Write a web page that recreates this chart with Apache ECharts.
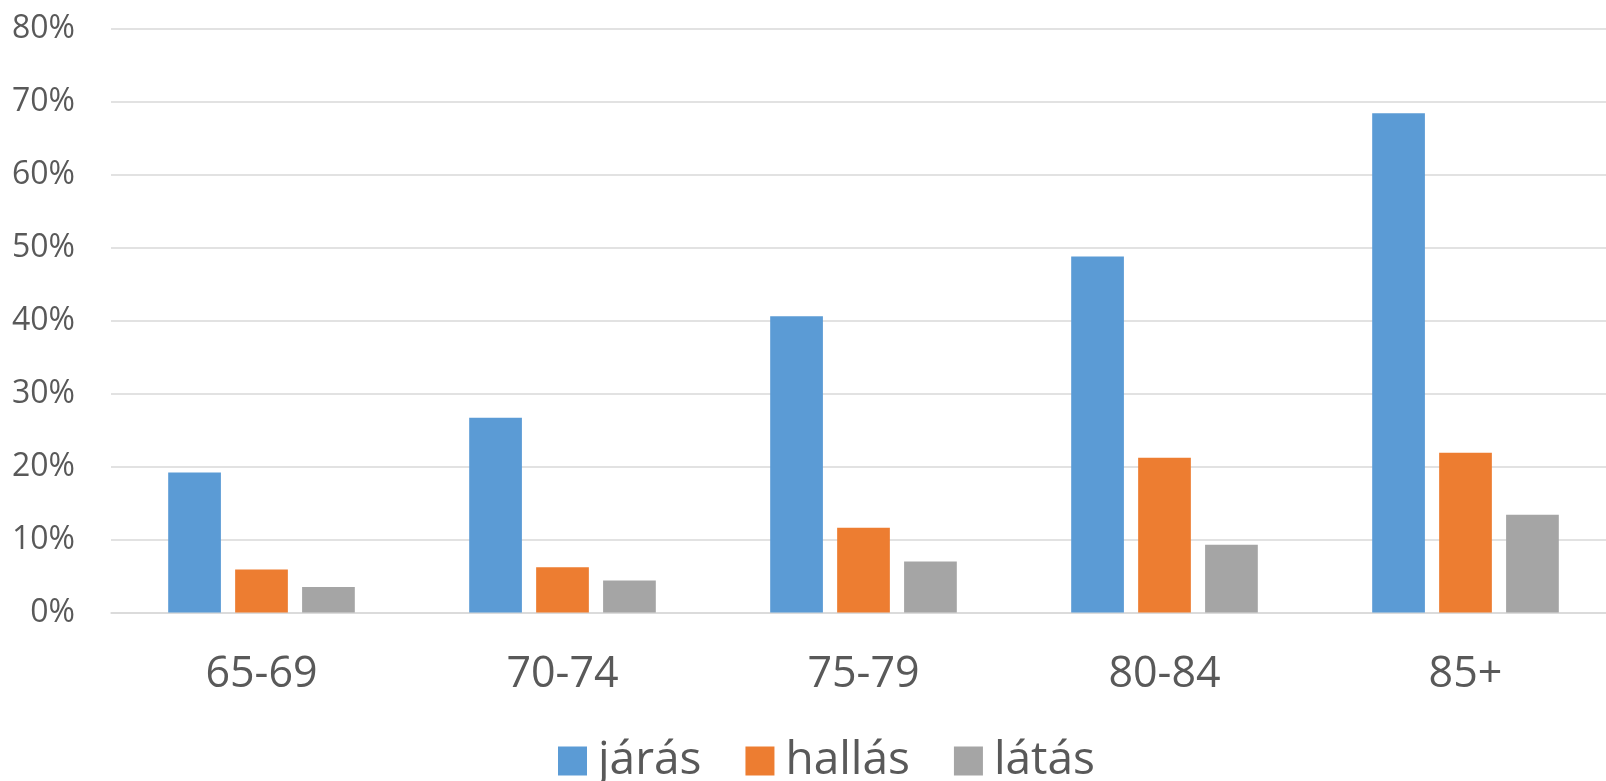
<!DOCTYPE html>
<html>
<head>
<meta charset="utf-8">
<script src="https://cdn.jsdelivr.net/npm/echarts@6/dist/echarts.min.js"></script>
<style>
html,body{margin:0;padding:0;background:#fff;}
#chart{width:1606px;height:781px;}
</style>
</head>
<body>
<div id="chart"></div>
<script>
var categories = ['65-69', '70-74', '75-79', '80-84', '85+'];
var jaras = [19.2, 26.7, 40.6, 48.8, 68.4];
var hallas = [5.9, 6.2, 11.6, 21.2, 21.9];
var latas = [3.5, 4.4, 7.0, 9.3, 13.4];
var seriesNames = ['járás', 'hallás', 'látás'];
var colors = ['#5b9bd5', '#ed7d31', '#a5a5a5'];

var chart = echarts.init(document.getElementById('chart'));
var textColor = '#595959';
var font = 'Open Sans';
chart.setOption({
  animation: false,
  color: colors,
  grid: { left: 111, width: 1505, top: 28.7, bottom: 168.5, containLabel: false, outerBoundsMode: 'none' },
  legend: {
    data: seriesNames,
    left: 558,
    top: 738,
    padding: 0,
    itemWidth: 29,
    itemHeight: 29,
    itemGap: 44,
    icon: 'rect',
    textStyle: { color: textColor, fontFamily: font, fontSize: 46, padding: [0, 0, 0, 6] }
  },
  xAxis: {
    type: 'category',
    data: categories,
    axisLine: { show: true, lineStyle: { color: '#d9d9d9', width: 1.5 } },
    axisTick: { show: false },
    axisLabel: { color: textColor, fontFamily: font, fontSize: 43, margin: 41 }
  },
  yAxis: {
    type: 'value',
    min: 0, max: 80, interval: 10,
    axisLine: { show: false },
    axisTick: { show: false },
    splitLine: { lineStyle: { color: '#d9d9d9', width: 1.5 } },
    axisLabel: { color: textColor, fontFamily: font, fontSize: 32, margin: 36, formatter: '{value}%' }
  },
  series: [
    { name: seriesNames[0], type: 'bar', data: jaras, barGap: '27%', barCategoryGap: '38%' },
    { name: seriesNames[1], type: 'bar', data: hallas, barGap: '27%', barCategoryGap: '38%' },
    { name: seriesNames[2], type: 'bar', data: latas, barGap: '27%', barCategoryGap: '38%' }
  ]
});
</script>
</body>
</html>
